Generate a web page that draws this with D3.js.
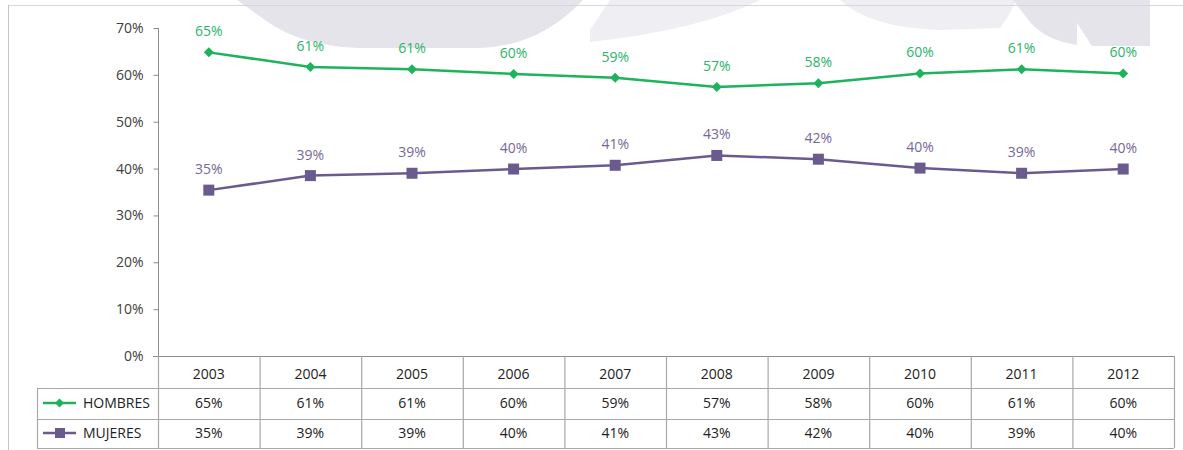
<!DOCTYPE html>
<html>
<head>
<meta charset="utf-8">
<script src="https://cdn.jsdelivr.net/npm/d3@7"></script>
<style>
  body { margin: 0; background: #fff; }
  svg text { font-family: "Open Sans", sans-serif; }
</style>
</head>
<body>
<svg id="chart" width="1183" height="450"></svg>
<script>
// data
var years = ["2003", "2004", "2005", "2006", "2007", "2008", "2009", "2010", "2011", "2012"];
var hombres = [64.8, 61.7, 61.2, 60.2, 59.4, 57.4, 58.2, 60.3, 61.2, 60.3];
var mujeres = [35.4, 38.5, 39.0, 39.9, 40.7, 42.8, 42.0, 40.1, 39.0, 39.9];
var hombresLabels = ["65%", "61%", "61%", "60%", "59%", "57%", "58%", "60%", "61%", "60%"];
var mujeresLabels = ["35%", "39%", "39%", "40%", "41%", "43%", "42%", "40%", "39%", "40%"];
var yTicks = [0, 10, 20, 30, 40, 50, 60, 70];

var green = "#1db35a",
    purple = "#6b5a8e";

var svg = d3.select("#chart");

// faint watermark shapes at the top
var wm = svg.append("g");
wm.append("path").attr("fill", "#e5e4ea")
    .attr("d", "M237,0 L265,20 Q300,46 360,48 L480,48 Q540,46 583,0 Z");
wm.append("path").attr("fill", "#efeef2")
    .attr("d", "M610,0 L760,0 Q700,30 590,42 L590,30 Z");
wm.append("path").attr("fill", "#efeef2")
    .attr("d", "M840,0 Q870,28 940,30 L1000,28 Q1012,12 1016,0 Z");
wm.append("path").attr("fill", "#e5e4ea")
    .attr("d", "M1013,0 L1077,0 L1077,45 Q1045,40 1030,22 Z");
wm.append("path").attr("fill", "#e5e4ea")
    .attr("d", "M1062,0 L1150,0 L1150,46 L1092,46 Z");

// frame
svg.append("line").attr("x1", 8).attr("x2", 1183).attr("y1", 5.5).attr("y2", 5.5)
    .attr("stroke", "#d6d6dc");
svg.append("line").attr("x1", 8.5).attr("x2", 8.5).attr("y1", 5).attr("y2", 450)
    .attr("stroke", "#c4c4c4");

var x = d3.scaleBand().domain(years).range([158, 1174]);
var y = d3.scaleLinear().domain([0, 70]).range([356, 28]);
var cx = function (d) { return x(d) + x.bandwidth() / 2; };

// y axis
var yAxis = svg.append("g")
    .attr("transform", "translate(158.5,0)")
    .call(d3.axisLeft(y).tickValues(yTicks).tickSize(5).tickPadding(10)
        .tickFormat(function (d) { return d + "%"; }));
yAxis.select(".domain").attr("stroke", "#8c8c8c").attr("d", "M0,28V356");
yAxis.selectAll(".tick line").attr("stroke", "#8c8c8c");
yAxis.selectAll(".tick text").attr("fill", "#404040")
    .style("font-size", "14px").style("font-family", "Open Sans, sans-serif");

// data table
var grid = "#a8a8a8";
var tbl = svg.append("g").attr("stroke", grid).attr("stroke-width", 1.2);
tbl.append("line").attr("x1", 153).attr("x2", 1174).attr("y1", 356.5).attr("y2", 356.5)
    .attr("stroke", "#8c8c8c");
[388, 419, 448].forEach(function (yy) {
    tbl.append("line").attr("x1", 37).attr("x2", 1174).attr("y1", yy + 0.5).attr("y2", yy + 0.5);
});
tbl.append("line").attr("x1", 37.5).attr("x2", 37.5).attr("y1", 388).attr("y2", 448);
years.concat(["end"]).forEach(function (d, i) {
    var xx = i < years.length ? x(d) : 1174;
    tbl.append("line").attr("x1", xx + 0.5).attr("x2", xx + 0.5).attr("y1", 356).attr("y2", 448);
});

var cells = svg.append("g").attr("text-anchor", "middle")
    .style("font-size", "14px").attr("fill", "#222");
cells.selectAll(".yr").data(years).enter().append("text")
    .attr("x", cx).attr("y", 379).text(function (d) { return d; });
cells.selectAll(".hv").data(hombresLabels).enter().append("text")
    .attr("x", function (d, i) { return cx(years[i]); }).attr("y", 408)
    .text(function (d) { return d; });
cells.selectAll(".mv").data(mujeresLabels).enter().append("text")
    .attr("x", function (d, i) { return cx(years[i]); }).attr("y", 438)
    .text(function (d) { return d; });

// legend keys inside the table
function diamond(g, px, py, r, col) {
    g.append("path").attr("fill", col)
        .attr("d", "M" + px + "," + (py - r) + "L" + (px + r) + "," + py + "L" + px + "," + (py + r) + "L" + (px - r) + "," + py + "Z");
}
var lg = svg.append("g");
lg.append("line").attr("x1", 43).attr("x2", 76).attr("y1", 403).attr("y2", 403)
    .attr("stroke", green).attr("stroke-width", 2.5);
diamond(lg, 59.5, 403, 4.5, green);
lg.append("text").attr("x", 83).attr("y", 408).style("font-size", "14px").attr("fill", "#222")
    .text("HOMBRES");
lg.append("line").attr("x1", 43).attr("x2", 76).attr("y1", 433).attr("y2", 433)
    .attr("stroke", purple).attr("stroke-width", 2.5);
lg.append("rect").attr("x", 55).attr("y", 428).attr("width", 10).attr("height", 10)
    .attr("fill", purple);
lg.append("text").attr("x", 83).attr("y", 438).style("font-size", "14px").attr("fill", "#222")
    .text("MUJERES");

// lines
var line = d3.line()
    .x(function (d, i) { return cx(years[i]); })
    .y(function (d) { return y(d); });

svg.append("path").datum(hombres).attr("d", line)
    .attr("fill", "none").attr("stroke", green).attr("stroke-width", 2.5);
svg.append("path").datum(mujeres).attr("d", line)
    .attr("fill", "none").attr("stroke", purple).attr("stroke-width", 2.5);

var hm = svg.append("g");
hombres.forEach(function (v, i) { diamond(hm, cx(years[i]), y(v), 5, green); });

svg.append("g").selectAll("rect").data(mujeres).enter().append("rect")
    .attr("x", function (d, i) { return cx(years[i]) - 5.5; })
    .attr("y", function (d) { return y(d) - 5.5; })
    .attr("width", 11).attr("height", 11)
    .attr("fill", purple);

// point labels
svg.append("g").attr("text-anchor", "middle").style("font-size", "14px").attr("fill", "#2bb46a")
    .selectAll("text").data(hombres).enter().append("text")
    .attr("x", function (d, i) { return cx(years[i]); })
    .attr("y", function (d) { return y(d) - 16; })
    .text(function (d, i) { return hombresLabels[i]; });
svg.append("g").attr("text-anchor", "middle").style("font-size", "14px").attr("fill", "#76679a")
    .selectAll("text").data(mujeres).enter().append("text")
    .attr("x", function (d, i) { return cx(years[i]); })
    .attr("y", function (d) { return y(d) - 16; })
    .text(function (d, i) { return mujeresLabels[i]; });
</script>
</body>
</html>
